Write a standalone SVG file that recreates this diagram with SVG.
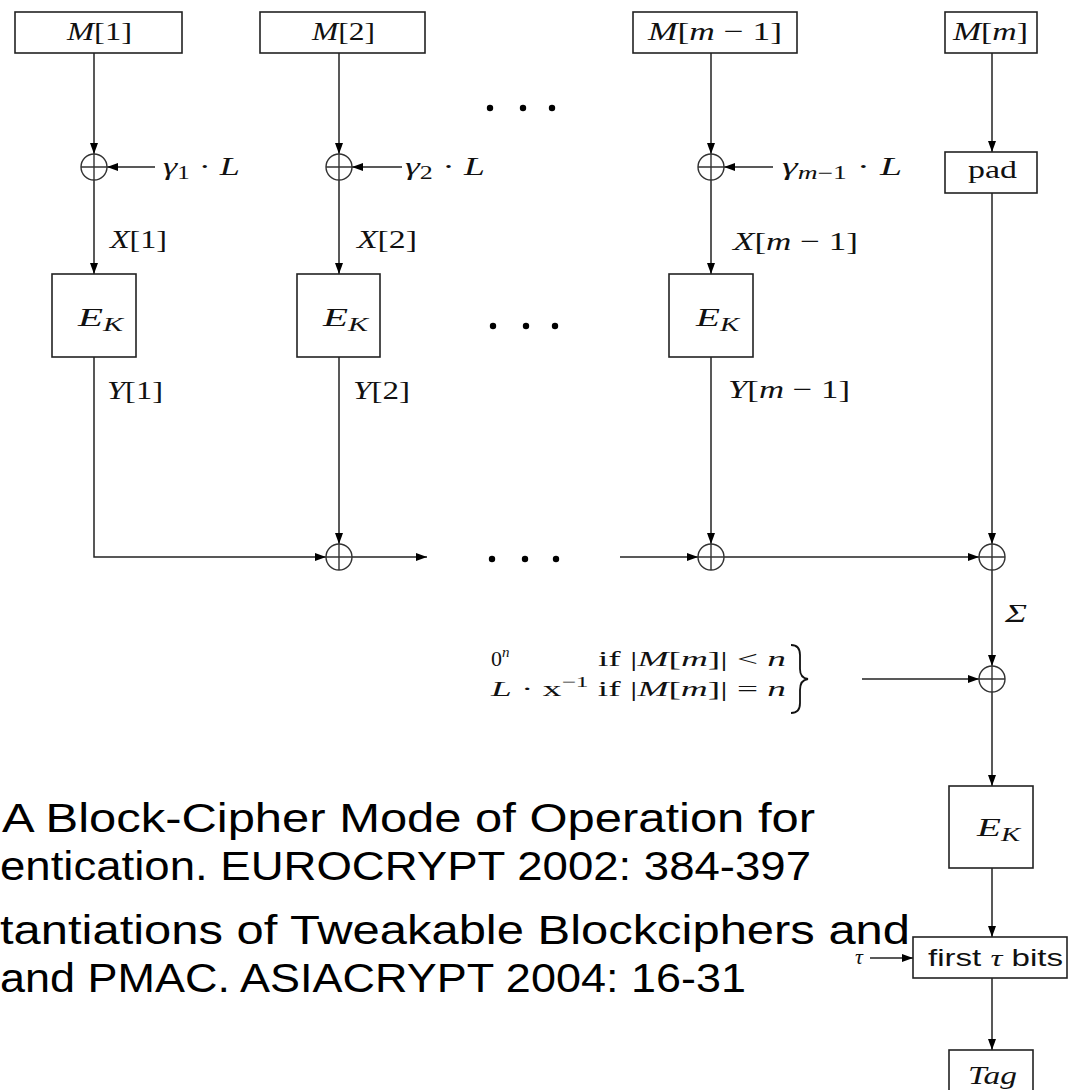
<svg xmlns="http://www.w3.org/2000/svg" width="1069" height="1090" viewBox="0 0 1069 1090">
<defs>
<marker id="ah" markerWidth="11" markerHeight="8" refX="11" refY="4" orient="auto" markerUnits="userSpaceOnUse">
<path d="M0,0 L11,4 L0,8 z" fill="#000"/>
</marker>
<style>
.box{fill:#fff;stroke:#222;stroke-width:1.6}
.ar{fill:none;stroke:#222;stroke-width:1.5;marker-end:url(#ah)}
.xor{fill:none;stroke:#333;stroke-width:1.4}
.m{font-family:"Liberation Serif","DejaVu Serif",serif;font-size:26px;fill:#111}
.i{font-style:italic}
.s{font-family:"Liberation Serif","DejaVu Serif",serif;font-size:22px;fill:#111}
.sf{font-family:"Liberation Sans","DejaVu Sans",sans-serif;font-size:24px;fill:#111}
.ref{font-family:"Liberation Sans","Open Sans",sans-serif;font-size:41px;fill:#000}
.dot{fill:#000}
</style>
</defs>

<g id="connectors">
<path class="ar" d="M94,53 V154"/>
<path class="ar" d="M155,167 H107"/>
<path class="ar" d="M94,180 V274"/>
<path class="ar" d="M94,357 V557 H326"/>
<path class="ar" d="M339,53 V154"/>
<path class="ar" d="M402,167 H352"/>
<path class="ar" d="M339,180 V274"/>
<path class="ar" d="M339,357 V544"/>
<path class="ar" d="M352,557 H427"/>
<path class="ar" d="M620,557 H698"/>
<path class="ar" d="M711,53 V154"/>
<path class="ar" d="M773,167 H724"/>
<path class="ar" d="M711,180 V274"/>
<path class="ar" d="M711,357 V544"/>
<path class="ar" d="M724,557 H979"/>
<path class="ar" d="M992,53 V152"/>
<path class="ar" d="M992,193 V544"/>
<path class="ar" d="M992,570 V666"/>
<path class="ar" d="M862,679 H979"/>
<path class="ar" d="M992,692 V786"/>
<path class="ar" d="M992,868 V937"/>
<path class="ar" d="M870,958 H913"/>
<path class="ar" d="M992,978 V1050"/>
</g>

<g id="M1"><rect class="box" x="15" y="12" width="167" height="41"/>
<text class="m" x="67" y="40" textLength="65" lengthAdjust="spacingAndGlyphs"><tspan class="i">M</tspan>[1]</text></g>
<g id="M2"><rect class="box" x="260" y="12" width="165" height="41"/>
<text class="m" x="312" y="40" textLength="63" lengthAdjust="spacingAndGlyphs"><tspan class="i">M</tspan>[2]</text></g>
<g id="Mm1"><rect class="box" x="633" y="12" width="164" height="41"/>
<text class="m" x="648" y="40" textLength="134" lengthAdjust="spacingAndGlyphs"><tspan class="i">M</tspan>[<tspan class="i">m</tspan> − 1]</text></g>
<g id="Mm"><rect class="box" x="945" y="12" width="92" height="41"/>
<text class="m" x="953" y="40" textLength="75" lengthAdjust="spacingAndGlyphs"><tspan class="i">M</tspan>[<tspan class="i">m</tspan>]</text></g>

<g id="xor1"><circle class="xor" cx="94" cy="167" r="13"/><path class="xor" d="M81,167 H107 M94,154 V180"/></g>
<g id="xor2"><circle class="xor" cx="339" cy="167" r="13"/><path class="xor" d="M326,167 H352 M339,154 V180"/></g>
<g id="xorm1"><circle class="xor" cx="711" cy="167" r="13"/><path class="xor" d="M698,167 H724 M711,154 V180"/></g>

<g id="g1"><text class="m" x="163" y="175" textLength="77" lengthAdjust="spacingAndGlyphs"><tspan class="i">γ</tspan><tspan font-size="18" dy="4">1</tspan><tspan dy="-4"> · </tspan><tspan class="i">L</tspan></text></g>
<g id="g2"><text class="m" x="405" y="175" textLength="80" lengthAdjust="spacingAndGlyphs"><tspan class="i">γ</tspan><tspan font-size="18" dy="4">2</tspan><tspan dy="-4"> · </tspan><tspan class="i">L</tspan></text></g>
<g id="gm1"><text class="m" x="782" y="175" textLength="120" lengthAdjust="spacingAndGlyphs"><tspan class="i">γ</tspan><tspan font-size="18" dy="4"><tspan class="i">m</tspan>−1</tspan><tspan dy="-4"> · </tspan><tspan class="i">L</tspan></text></g>

<g id="pad"><rect class="box" x="945" y="152" width="92" height="41"/>
<text class="m" x="968" y="178" textLength="49" lengthAdjust="spacingAndGlyphs">pad</text></g>

<g id="X1"><text class="m" x="110" y="248" textLength="57" lengthAdjust="spacingAndGlyphs"><tspan class="i">X</tspan>[1]</text></g>
<g id="X2"><text class="m" x="357" y="248" textLength="60" lengthAdjust="spacingAndGlyphs"><tspan class="i">X</tspan>[2]</text></g>
<g id="Xm1"><text class="m" x="733" y="250" textLength="125" lengthAdjust="spacingAndGlyphs"><tspan class="i">X</tspan>[<tspan class="i">m</tspan> − 1]</text></g>

<g id="E1"><rect class="box" x="52" y="274" width="84" height="83"/>
<text class="m" x="78" y="326" textLength="45" lengthAdjust="spacingAndGlyphs"><tspan class="i">E</tspan><tspan class="i" font-size="19" dy="5">K</tspan></text></g>
<g id="E2"><rect class="box" x="297" y="274" width="83" height="83"/>
<text class="m" x="323" y="326" textLength="45" lengthAdjust="spacingAndGlyphs"><tspan class="i">E</tspan><tspan class="i" font-size="19" dy="5">K</tspan></text></g>
<g id="Em1"><rect class="box" x="669" y="274" width="84" height="83"/>
<text class="m" x="696" y="326" textLength="43" lengthAdjust="spacingAndGlyphs"><tspan class="i">E</tspan><tspan class="i" font-size="19" dy="5">K</tspan></text></g>

<g id="Y1"><text class="m" x="107" y="399" textLength="56" lengthAdjust="spacingAndGlyphs"><tspan class="i">Y</tspan>[1]</text></g>
<g id="Y2"><text class="m" x="353" y="399" textLength="57" lengthAdjust="spacingAndGlyphs"><tspan class="i">Y</tspan>[2]</text></g>
<g id="Ym1"><text class="m" x="728" y="398" textLength="122" lengthAdjust="spacingAndGlyphs"><tspan class="i">Y</tspan>[<tspan class="i">m</tspan> − 1]</text></g>

<g id="dots">
<circle class="dot" cx="490" cy="108" r="3.2"/><circle class="dot" cx="523" cy="108" r="3.2"/><circle class="dot" cx="552" cy="108" r="3.2"/>
<circle class="dot" cx="493" cy="326" r="3.2"/><circle class="dot" cx="526" cy="326" r="3.2"/><circle class="dot" cx="555" cy="326" r="3.2"/>
<circle class="dot" cx="492" cy="559" r="3.2"/><circle class="dot" cx="525" cy="559" r="3.2"/><circle class="dot" cx="556" cy="559" r="3.2"/>
</g>

<g id="xs2"><circle class="xor" cx="339" cy="557" r="13"/><path class="xor" d="M326,557 H352 M339,544 V570"/></g>
<g id="xsm1"><circle class="xor" cx="711" cy="557" r="13"/><path class="xor" d="M698,557 H724 M711,544 V570"/></g>
<g id="xsm"><circle class="xor" cx="992" cy="557" r="13"/><path class="xor" d="M979,557 H1005 M992,544 V570"/></g>

<g id="sigma"><text class="m" x="1005" y="622" font-style="italic" textLength="22" lengthAdjust="spacingAndGlyphs">Σ</text></g>

<g id="cond">
<text class="s" x="491" y="666">0<tspan font-size="15" dy="-9" class="i">n</tspan></text>
<text class="s" x="598" y="666" textLength="188" lengthAdjust="spacingAndGlyphs">if |<tspan class="i">M</tspan>[<tspan class="i">m</tspan>]| &lt; <tspan class="i">n</tspan></text>
<text class="s" x="491" y="696" textLength="295" lengthAdjust="spacingAndGlyphs"><tspan class="i">L</tspan> · x<tspan font-size="15" dy="-9">−1</tspan><tspan dy="9"> if |</tspan><tspan class="i">M</tspan>[<tspan class="i">m</tspan>]| = <tspan class="i">n</tspan></text>
<path d="M791,645 Q800,645 800,655 V669 Q800,678 808,679 Q800,680 800,690 V703 Q800,713 791,713" fill="none" stroke="#111" stroke-width="1.8"/>
</g>

<g id="xorf"><circle class="xor" cx="992" cy="679" r="13"/><path class="xor" d="M979,679 H1005 M992,666 V692"/></g>

<g id="Ef"><rect class="box" x="949" y="786" width="84" height="82"/>
<text class="m" x="977" y="836" textLength="43" lengthAdjust="spacingAndGlyphs"><tspan class="i">E</tspan><tspan class="i" font-size="19" dy="5">K</tspan></text></g>

<g id="refs">
<text class="ref" x="2" y="832" textLength="813" lengthAdjust="spacingAndGlyphs">A Block-Cipher Mode of Operation for</text>
<text class="ref" x="0" y="880" textLength="811" lengthAdjust="spacingAndGlyphs">entication. EUROCRYPT 2002: 384-397</text>
<text class="ref" x="0" y="944" textLength="910" lengthAdjust="spacingAndGlyphs">tantiations of Tweakable Blockciphers and</text>
<text class="ref" x="0" y="992" textLength="746" lengthAdjust="spacingAndGlyphs">and PMAC. ASIACRYPT 2004: 16-31</text>
</g>

<g id="trunc"><rect class="box" x="913" y="937" width="154" height="41"/>
<text class="sf" x="928" y="966" textLength="135" lengthAdjust="spacingAndGlyphs">first <tspan font-family="Liberation Serif,serif" font-style="italic">τ</tspan> bits</text></g>
<g id="tau"><text class="s" x="855" y="964" font-style="italic" font-size="18">τ</text></g>

<g id="tag"><rect class="box" x="949" y="1050" width="84" height="50"/>
<text class="m" x="968" y="1084" font-style="italic" textLength="49" lengthAdjust="spacingAndGlyphs">Tag</text></g>
</svg>
